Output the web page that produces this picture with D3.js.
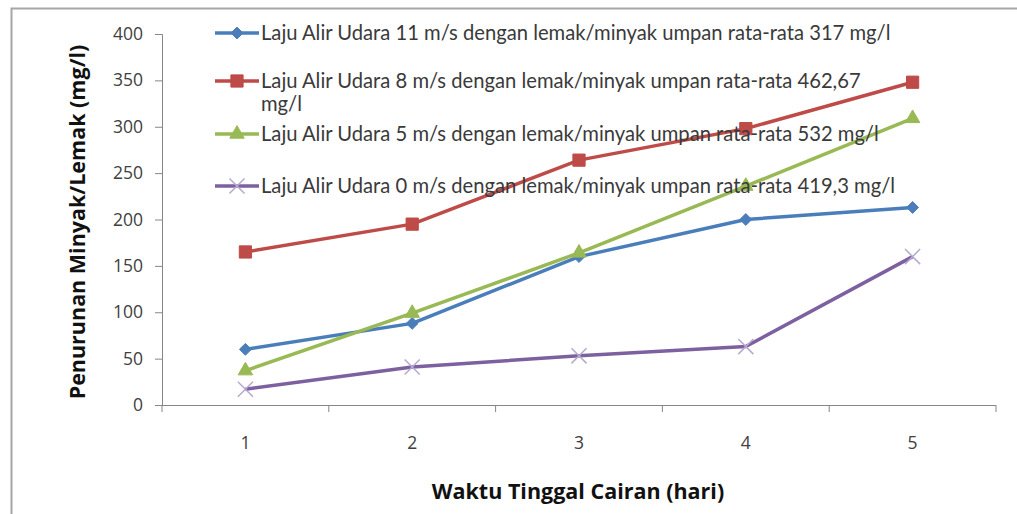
<!DOCTYPE html>
<html>
<head>
<meta charset="utf-8">
<script src="https://cdn.jsdelivr.net/npm/d3@7"></script>
<style>
  body { margin: 0; background: #fff; }
  svg { display: block; font-family: "Open Sans", "Liberation Sans", sans-serif; }
</style>
</head>
<body>
<div id="chart"></div>
<script>
// data
var days = [1, 2, 3, 4, 5];
var yTicks = [0, 50, 100, 150, 200, 250, 300, 350, 400];
var flow11 = [60, 88, 160, 200, 213];
var flow8 = [165, 195, 264, 298, 348];
var flow5 = [37, 99, 164, 236, 309];
var flow0 = [17, 41, 53, 63, 160];
var seriesNames = [
  'Laju Alir Udara 11 m/s dengan lemak/minyak umpan rata-rata 317 mg/l',
  'Laju Alir Udara 8 m/s dengan lemak/minyak umpan rata-rata 462,67',
  'Laju Alir Udara 5 m/s dengan lemak/minyak umpan rata-rata 532 mg/l',
  'Laju Alir Udara 0 m/s dengan lemak/minyak umpan rata-rata 419,3 mg/l'
];

var series = [
  {name: seriesNames[0], values: flow11, color: '#4a7ebb', symbol: 'diamond'},
  {name: seriesNames[1], values: flow8, color: '#be4b48', symbol: 'square'},
  {name: seriesNames[2], values: flow5, color: '#98b954', symbol: 'triangle'},
  {name: seriesNames[3], values: flow0, color: '#7d60a0', symbol: 'cross'}
];

var width = 1017, height = 514;
var plot = {left: 162, right: 996, top: 34, bottom: 405};

var svg = d3.select('#chart').append('svg')
  .attr('width', width)
  .attr('height', height);

// outer frame (only top and left edges show)
svg.append('path')
  .attr('d', 'M11.5,' + height + ' V8.5 H' + width)
  .attr('fill', 'none')
  .attr('stroke', '#a6a6a6')
  .attr('stroke-width', 2);

var x = d3.scaleBand()
  .domain(days)
  .range([plot.left, plot.right])
  .padding(0);

var y = d3.scaleLinear()
  .domain([0, 400])
  .range([plot.bottom, plot.top]);

// y axis
var yAxis = d3.axisLeft(y).tickValues(yTicks).tickSize(7).tickPadding(12);
var gy = svg.append('g')
  .attr('transform', 'translate(' + plot.left + ',0)')
  .call(yAxis);
gy.select('.domain').attr('stroke', '#868686').attr('d', 'M-7,' + plot.top + '.5H0.5V' + plot.bottom);
gy.selectAll('.tick line').attr('stroke', '#868686');
gy.selectAll('.tick text')
  .attr('font-size', 17.5)
  .attr('fill', '#404040')
  .attr('font-family', '"Open Sans", sans-serif');

// x axis: ticks at category boundaries, labels at centres
var gx = svg.append('g').attr('transform', 'translate(0,' + plot.bottom + ')');
gx.append('line')
  .attr('x1', plot.left).attr('x2', plot.right)
  .attr('y1', 0.5).attr('y2', 0.5)
  .attr('stroke', '#868686');
var bounds = days.map(function (d) { return x(d); }).concat([x(days[days.length - 1]) + x.bandwidth()]);
gx.selectAll('.xt').data(bounds).enter().append('line')
  .attr('x1', function (d) { return d; })
  .attr('x2', function (d) { return d; })
  .attr('y1', 0).attr('y2', 7)
  .attr('stroke', '#868686');
gx.selectAll('.xl').data(days).enter().append('text')
  .attr('x', function (d) { return x(d) + x.bandwidth() / 2; })
  .attr('y', 44)
  .attr('text-anchor', 'middle')
  .attr('font-size', 17.5)
  .attr('fill', '#404040')
  .text(function (d) { return d; });

// axis titles
svg.append('text')
  .attr('transform', 'translate(85,222) rotate(-90)')
  .attr('text-anchor', 'middle')
  .attr('font-size', 21.5)
  .attr('font-weight', 'bold')
  .attr('fill', '#111')
  .text('Penurunan Minyak/Lemak (mg/l)');

svg.append('text')
  .attr('x', 578)
  .attr('y', 499)
  .attr('text-anchor', 'middle')
  .attr('font-size', 21.5)
  .attr('font-weight', 'bold')
  .attr('fill', '#111')
  .text('Waktu Tinggal Cairan (hari)');

var cx = function (i) { return x(days[i]) + x.bandwidth() / 2; };

var symbolPath = {
  diamond: d3.symbol().type(d3.symbolDiamond2).size(90)(),
  square: d3.symbol().type(d3.symbolSquare2).size(190)(),
  triangle: d3.symbol().type(d3.symbolTriangle2).size(150)(),
  cross: d3.symbol().type(d3.symbolX).size(150)()
};

function drawMarker(g, s) {
  if (s.symbol === 'cross') {
    g.append('path').attr('d', symbolPath.cross)
      .attr('fill', 'none').attr('stroke', '#b7a8cf').attr('stroke-width', 1.5);
  } else {
    g.append('path').attr('d', symbolPath[s.symbol])
      .attr('fill', s.color).attr('stroke', s.color).attr('stroke-width', 1);
  }
}

var line = d3.line()
  .x(function (d, i) { return cx(i); })
  .y(function (d) { return y(d); });

// draw lines
series.forEach(function (s) {
  svg.append('path')
    .datum(s.values)
    .attr('d', line)
    .attr('fill', 'none')
    .attr('stroke', s.color)
    .attr('stroke-width', 3.5)
    .attr('stroke-linejoin', 'round');
  s.values.forEach(function (v, i) {
    var g = svg.append('g').attr('transform', 'translate(' + cx(i) + ',' + y(v) + ')');
    drawMarker(g, s);
  });
});

// legend, drawn over the plot
var legendY = [33, 81, 134, 186];
var legend = svg.append('g');
series.forEach(function (s, i) {
  var g = legend.append('g').attr('transform', 'translate(215,' + legendY[i] + ')');
  g.append('line')
    .attr('x1', 0).attr('x2', 44)
    .attr('y1', 0).attr('y2', 0)
    .attr('stroke', s.color)
    .attr('stroke-width', 3.5);
  var m = g.append('g').attr('transform', 'translate(22,0)');
  drawMarker(m, s);
  g.append('text')
    .attr('x', 46)
    .attr('y', 6.5)
    .attr('font-size', 20.2)
    .attr('fill', '#3a3a3a')
    .attr('font-family', 'Lato, "Open Sans", sans-serif')
    .text(s.name);
  if (i === 1) {
    g.append('text')
      .attr('x', 46)
      .attr('y', 30)
      .attr('font-size', 20.2)
      .attr('fill', '#3a3a3a')
      .attr('font-family', 'Lato, "Open Sans", sans-serif')
      .text('mg/l');
  }
});
</script>
</body>
</html>
